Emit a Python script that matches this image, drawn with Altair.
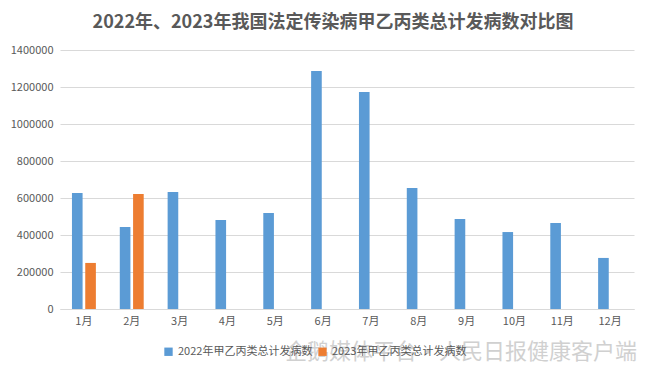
import altair as alt
import pandas as pd

months = ["1月", "2月", "3月", "4月", "5月", "6月", "7月", "8月", "9月", "10月", "11月", "12月"]
series_2022 = "2022年甲乙丙类总计发病数"
series_2023 = "2023年甲乙丙类总计发病数"
values_2022 = [627000, 443000, 632000, 481000, 519000, 1286000, 1173000, 654000, 486000, 416000, 465000, 276000]
values_2023 = [249000, 622000, None, None, None, None, None, None, None, None, None, None]
title_text = "2022年、2023年我国法定传染病甲乙丙类总计发病数对比图"
watermark = "企鹅媒体平台·人民日报健康客户端"

rows = []
for m, a, b in zip(months, values_2022, values_2023):
    rows.append({"month": m, "series": series_2022, "value": a})
    if b is not None:
        rows.append({"month": m, "series": series_2023, "value": b})
df = pd.DataFrame(rows)

gray = "#595959"
font = "Noto Sans CJK SC"

bars = alt.Chart(df).mark_bar().encode(
    x=alt.X("month:N", sort=months, title=None,
            scale=alt.Scale(paddingInner=0.5, paddingOuter=0.25),
            axis=alt.Axis(labelAngle=0, ticks=False, domainColor="#d9d9d9",
                          labelColor=gray, labelFontSize=11, labelFont=font, labelPadding=6)),
    xOffset=alt.XOffset("series:N", sort=[series_2022, series_2023],
                        scale=alt.Scale(domain=[series_2022, series_2023], paddingInner=0.2)),
    y=alt.Y("value:Q", title=None,
            scale=alt.Scale(domain=[0, 1400000]),
            axis=alt.Axis(values=list(range(0, 1400001, 200000)), format="d",
                          domain=False, ticks=False, gridColor="#d9d9d9",
                          labelColor=gray, labelFontSize=11, labelFont=font, labelPadding=7)),
    color=alt.Color("series:N", sort=[series_2022, series_2023],
                    scale=alt.Scale(domain=[series_2022, series_2023], range=["#5b9bd5", "#ed7d31"]),
                    legend=alt.Legend(title=None, orient="none", direction="horizontal",
                                      legendX=103, legendY=296, symbolType="square",
                                      symbolSize=70, labelColor=gray, labelFontSize=11,
                                      labelFont=font, columnPadding=4, symbolStrokeWidth=0)),
)

wm = alt.Chart(pd.DataFrame({"t": [watermark]})).mark_text(
    fontSize=22, font=font, color="#bdbdbd", opacity=0.7, align="left", baseline="middle"
).encode(text="t:N", x=alt.value(225), y=alt.value(302))

chart = alt.layer(bars, wm).properties(
    width=574, height=259,
    autosize="none",
    padding={"left": 52, "top": 42, "right": 8, "bottom": 58},
    title=alt.Title(title_text, fontSize=18, font=font, fontWeight="bold",
                    color=gray, offset=12, dx=-14),
).configure_view(stroke=None)

chart.save("out.html", embed_options={"renderer": "svg", "actions": False})
